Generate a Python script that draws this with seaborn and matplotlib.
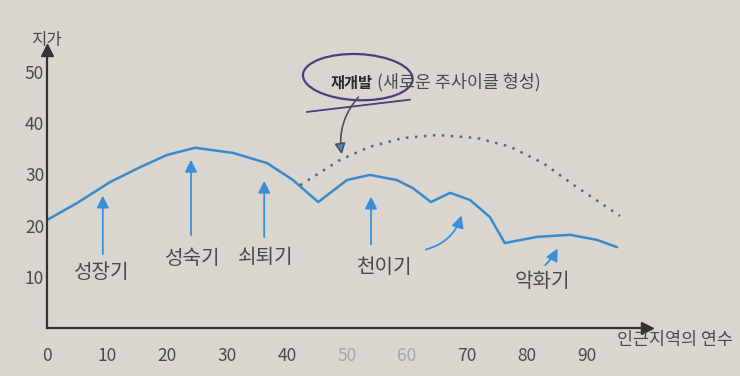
import numpy as np
import pandas as pd
import seaborn as sns
import matplotlib.pyplot as plt
from matplotlib.patches import Ellipse

# 지가 곡선 (사진에서 읽은 값)
years = [0, 5, 10.5, 15.5, 20, 24.7, 31, 36.7, 41, 45.2, 50, 53.8, 58.3, 61, 64,
         67.2, 70.5, 73.8, 76.3, 81.7, 87.2, 91.7, 95]
price = [21.1, 24.4, 28.5, 31.4, 33.8, 35.2, 34.2, 32.2, 28.9, 24.6, 28.9, 29.9, 28.9,
         27.3, 24.6, 26.4, 25.0, 21.7, 16.6, 17.8, 18.2, 17.2, 15.8]

# 재개발 곡선 (점선)
redev_years = [42.2, 48.8, 53.8, 59.3, 65, 71.7, 77.2, 82.7, 88.3, 95.5]
redev_price = [27.9, 32.8, 35.4, 37.1, 37.7, 37.1, 35.4, 32.2, 27.5, 21.9]

x_ticks = [0, 10, 20, 30, 40, 50, 60, 70, 80, 90]
y_ticks = [10, 20, 30, 40, 50]

# 단계 라벨
stage_names = ['성장기', '성숙기', '쇠퇴기', '천이기', '악화기']
stage_x = [9.2, 24.3, 36.5, 56.3, 82.5]
stage_y = [10.9, 13.5, 13.7, 11.9, 9.0]

df = pd.DataFrame({'연수': years, '지가': price})
df2 = pd.DataFrame({'연수': redev_years, '지가': redev_price})

sns.set_theme(style='white')
plt.rcParams['font.family'] = ['Noto Sans CJK KR', 'DejaVu Sans']

bg = '#d8d6cf'
txt = '#4a4a4a'
blue = '#3b8bcb'
arrow_blue = '#3a8fd8'

fig = plt.figure(figsize=(7.4, 3.76), dpi=100, facecolor=bg)
ax = fig.add_axes([47 / 740, 48 / 376, 600 / 740, 278 / 376])
ax.set_facecolor(bg)

sns.lineplot(data=df, x='연수', y='지가', ax=ax, color=blue, lw=1.8)
sns.lineplot(data=df2, x='연수', y='지가', ax=ax, color='#5a6878', lw=1.8,
             linestyle=(0, (1, 2.6)))

ax.set_xlim(0, 100)
ax.set_ylim(0, 54.3)
ax.set_xlabel('')
ax.set_ylabel('')

for s in ['top', 'right']:
    ax.spines[s].set_visible(False)
for s in ['left', 'bottom']:
    ax.spines[s].set_color('#333333')
    ax.spines[s].set_linewidth(1.6)

# 축 화살표
ax.plot(100, 0, '>', color='#333333', ms=8, clip_on=False)
ax.plot(0, 54.3, '^', color='#333333', ms=8, clip_on=False)

ax.set_xticks(x_ticks)
ax.set_yticks(y_ticks)
ax.tick_params(axis='x', direction='in', length=6, width=1.2, colors='#333333',
               labelcolor=txt, labelsize=12.5, pad=14)
ax.tick_params(axis='y', direction='in', length=7, width=1.2, colors='#333333',
               labelcolor=txt, labelsize=12.5, pad=2)
for lab in ax.get_xticklabels():
    if lab.get_text() in ('50', '60'):
        lab.set_color('#a5a5a5')

ax.text(0, 56.2, '지가', ha='center', va='center', fontsize=12, color=txt, clip_on=False)
ax.text(95, -2.4, '인근지역의 연수', ha='left', va='center', fontsize=12.5, color=txt,
        clip_on=False)

for name, sx, sy in zip(stage_names, stage_x, stage_y):
    ax.text(sx, sy, name, ha='center', va='center', fontsize=14.5, color=txt)

# 단계 화살표
arr = dict(arrowstyle='-|>', color=arrow_blue, lw=1.3, mutation_scale=18)
ax.annotate('', xy=(9.3, 26.4), xytext=(9.3, 13.9), arrowprops=arr)
ax.annotate('', xy=(24, 33.4), xytext=(24, 17.6), arrowprops=arr)
ax.annotate('', xy=(36.2, 29.3), xytext=(36.2, 17.2), arrowprops=arr)
ax.annotate('', xy=(54, 26.2), xytext=(54, 15.8), arrowprops=arr)
ax.annotate('', xy=(69.2, 22.5), xytext=(62.7, 15.2),
            arrowprops=dict(arr, connectionstyle='arc3,rad=0.3'))
ax.annotate('', xy=(85.3, 16.0), xytext=(82.7, 11.9),
            arrowprops=dict(arr, connectionstyle='arc3,rad=0.1'))

# 재개발 설명
ax.text(47.3, 48.0, '재개발', ha='left', va='center', fontsize=11, color='#2a2a2a',
        fontweight='bold')
ax.text(55.0, 48.0, '(새로운 주사이클 형성)', ha='left', va='center', fontsize=12.5,
        color=txt)
ax.annotate('', xy=(49.2, 33.4), xytext=(52.2, 45.5),
            arrowprops=dict(arrowstyle='-|>', ec='#505050', fc=arrow_blue, lw=1.2,
                            mutation_scale=16, connectionstyle='arc3,rad=0.25'))
ax.add_patch(Ellipse((51.8, 49.0), 18.3, 9.0, angle=-3, fill=False,
                     ec='#4a3f7a', lw=1.6, clip_on=False))
ax.plot([43.3, 60.5], [42.2, 44.6], color='#4a3f7a', lw=1.3)

fig.savefig('out.png', dpi=100, facecolor=bg)
